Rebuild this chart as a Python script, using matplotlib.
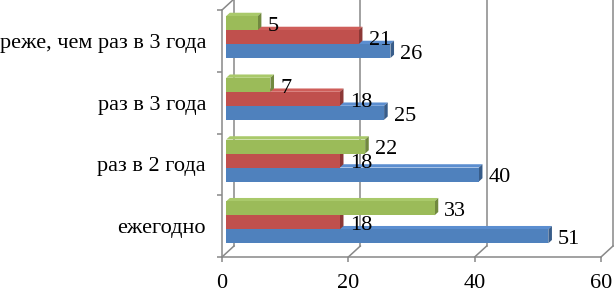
import matplotlib
matplotlib.use("Agg")
import matplotlib.pyplot as plt
from matplotlib.patches import Polygon

# Data (bottom to top as drawn)
categories = ["ежегодно", "раз в 2 года", "раз в 3 года", "реже, чем раз в 3 года"]
series_blue = [51, 40, 25, 26]
series_red = [18, 18, 18, 21]
series_green = [33, 22, 7, 5]
x_ticks = [0, 20, 40, 60]

# Colors (front, top, side)
BLUE = ("#4F81BD", "#5B8ED0", "#385D8A")
RED = ("#C0504D", "#CF5E5A", "#8C3836")
GREEN = ("#9BBB59", "#A9C96A", "#71893F")
GRID = "#888888"

W, H, DPI = 616, 294, 100
AX_LEFT, AX_RIGHT, AX_TOP, AX_BOTTOM = 222, 601, 10, 257

fig = plt.figure(figsize=(W / DPI, H / DPI), dpi=DPI)
ax = fig.add_axes([AX_LEFT / W, 1 - AX_BOTTOM / H, (AX_RIGHT - AX_LEFT) / W, (AX_BOTTOM - AX_TOP) / H])
ax.set_xlim(0, 60)
ax.set_ylim(0, 4)

# pixel -> data units
ux = 60 / (AX_RIGHT - AX_LEFT)
uy = 4 / (AX_BOTTOM - AX_TOP)
DEPTH_X, DEPTH_Y = 12, 11

serif = "Liberation Serif"

# back wall and floor edges
for v in x_ticks:
    ax.plot([v + DEPTH_X * ux] * 2, [DEPTH_Y * uy, 4 + DEPTH_Y * uy], color=GRID, lw=1.1,
            clip_on=False, zorder=1)
    ax.plot([v, v + DEPTH_X * ux], [0, DEPTH_Y * uy], color=GRID, lw=1.1, clip_on=False, zorder=1)
ax.plot([0, DEPTH_X * ux], [4, 4 + DEPTH_Y * uy], color=GRID, lw=1.1, clip_on=False, zorder=1)

# bars with a simple 3D look
bar_h = 14 * uy
f0, f1 = 0.35, 0.65
x0 = f0 * DEPTH_X * ux
y_shift = f0 * DEPTH_Y * uy
ddx = (f1 - f0) * DEPTH_X * ux
ddy = (f1 - f0) * DEPTH_Y * uy

z = 3
for offset, values, cols in [(-1, series_blue, BLUE), (0, series_red, RED), (1, series_green, GREEN)]:
    for i, v in enumerate(values):
        yc = i + 0.5 + offset * bar_h + y_shift
        yb, yt = yc - bar_h / 2, yc + bar_h / 2
        xe = x0 + v
        ax.add_patch(Polygon([(x0, yt), (xe, yt), (xe + ddx, yt + ddy), (x0 + ddx, yt + ddy)],
                             closed=True, facecolor=cols[1], edgecolor="none", zorder=z, clip_on=False))
        ax.add_patch(Polygon([(xe, yb), (xe + ddx, yb + ddy), (xe + ddx, yt + ddy), (xe, yt)],
                             closed=True, facecolor=cols[2], edgecolor="none", zorder=z, clip_on=False))
        ax.barh(yc, v, height=bar_h, left=x0, color=cols[0], edgecolor="none", zorder=z + 0.5)
        ax.annotate(str(v), (xe, yc), xytext=(7, -2.5), textcoords="offset points",
                    ha="left", va="center", fontsize=16, family=serif, zorder=20)
    z += 1

# axes styling
for side in ["top", "right"]:
    ax.spines[side].set_visible(False)
for side in ["left", "bottom"]:
    ax.spines[side].set_color(GRID)
    ax.spines[side].set_linewidth(1.1)
ax.set_yticks([i + 0.5 for i in range(len(categories))])
ax.set_yticklabels(categories, fontsize=16, family=serif)
ax.set_yticks(range(len(categories) + 1), minor=True)
ax.tick_params(axis="y", which="major", length=0, pad=11.5)
ax.tick_params(axis="y", which="minor", length=3.6, width=1.1, color=GRID)
ax.set_xticks(x_ticks)
ax.set_xticklabels([str(t) for t in x_ticks], fontsize=16, family=serif)
ax.tick_params(axis="x", length=3.6, width=1.1, color=GRID, pad=9)
ax.patch.set_visible(False)

fig.savefig("out.png", dpi=DPI)
